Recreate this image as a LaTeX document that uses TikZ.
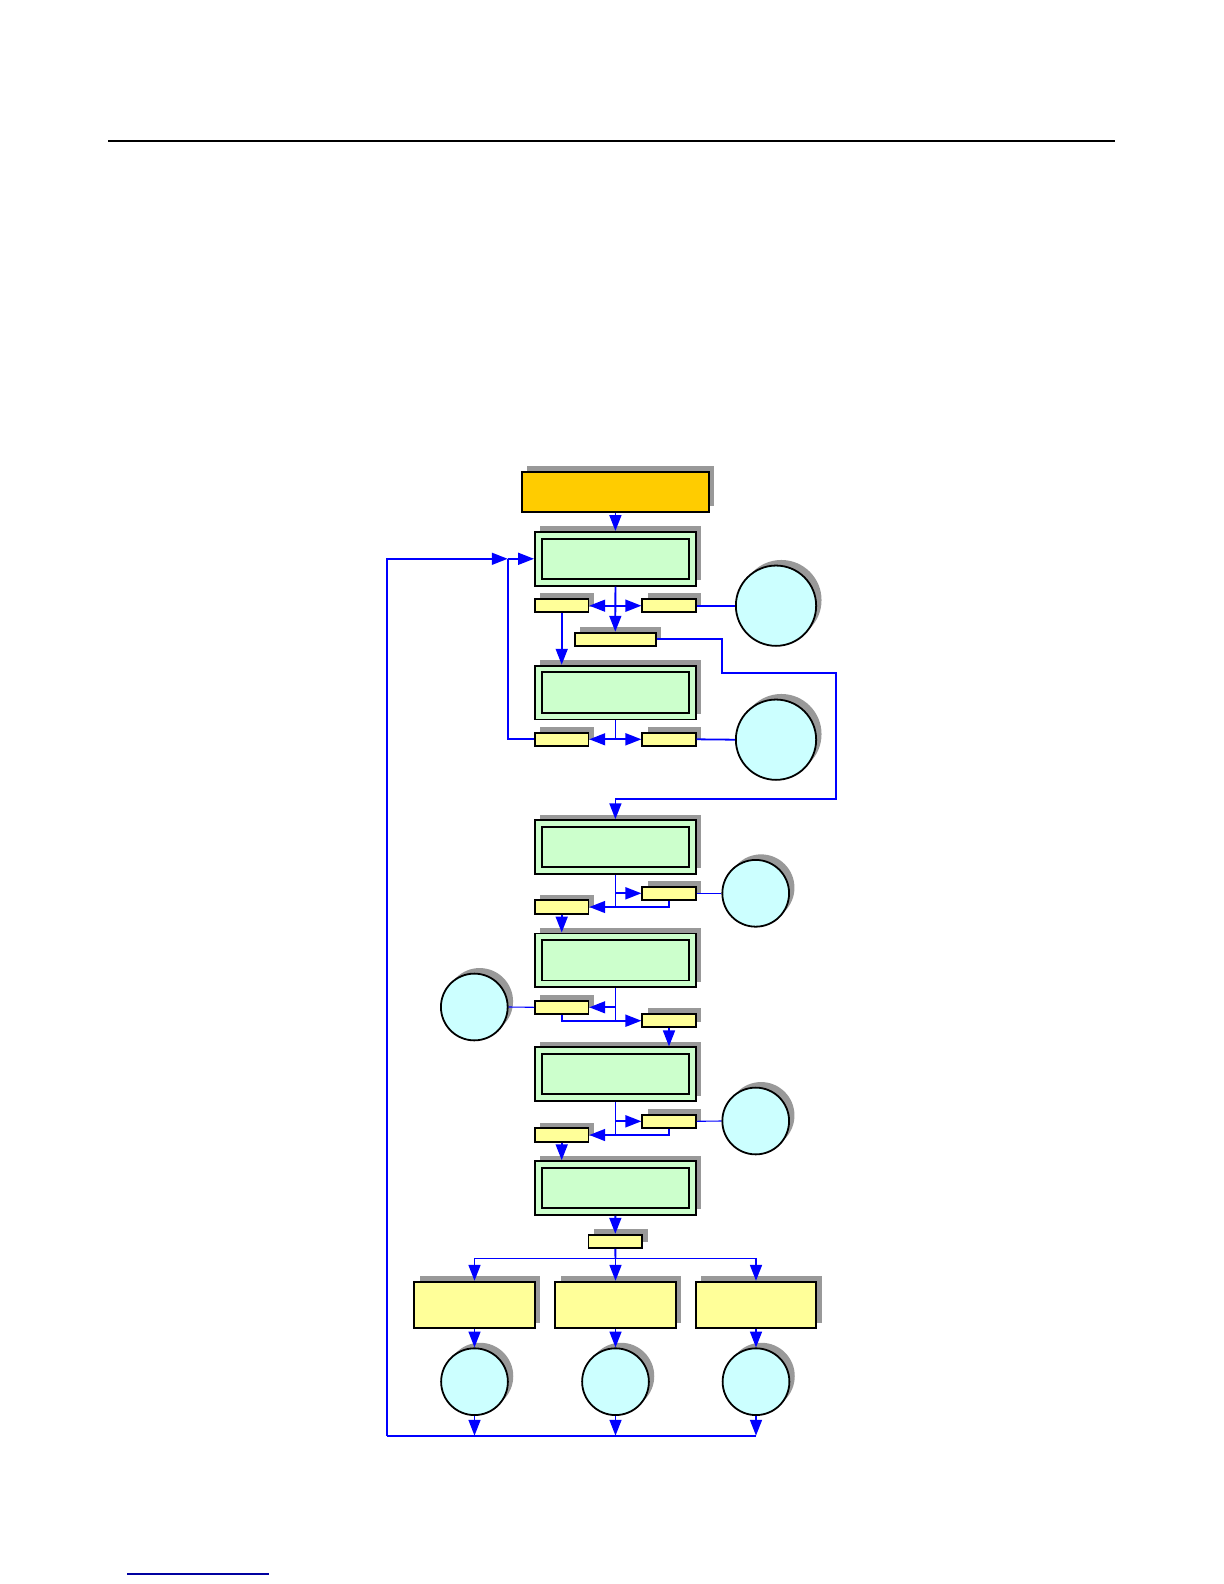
\documentclass[tikz,border=0pt]{standalone}
\usepackage{tikz}
\usetikzlibrary{arrows.meta,positioning,shadows}

\definecolor{headorange}{HTML}{FFCC00}
\definecolor{stagegreen}{HTML}{CCFFCC}
\definecolor{notefill}{HTML}{FFFF99}
\definecolor{poolcyan}{HTML}{CCFFFF}
\definecolor{footblue}{RGB}{0,0,160}

\begin{document}
\begin{tikzpicture}[
        x=0.50187pt, y=-0.50187pt,
        shade/.style={general shadow={fill=black!40, shadow xshift=2.7pt, shadow yshift=2.8pt}},
        head/.style={draw, line width=0.9pt, fill=headorange, minimum width=94pt, minimum height=20pt, inner sep=0pt, shade},
        stage/.style={draw, line width=0.9pt, fill=stagegreen, minimum width=80.8pt, minimum height=27pt, inner sep=0pt, shade,
            path picture={\draw[line width=0.9pt] ([shift={(3.4pt,-3.4pt)}]path picture bounding box.north west) rectangle ([shift={(-3.4pt,3.4pt)}]path picture bounding box.south east);}},
        tag/.style={draw, line width=0.9pt, fill=notefill, minimum width=26.8pt, minimum height=6.7pt, inner sep=0pt, shade},
        branch/.style={draw, line width=0.9pt, fill=notefill, minimum width=60.6pt, minimum height=23.4pt, inner sep=0pt, shade},
        pool/.style={circle, draw, line width=0.9pt, fill=poolcyan, minimum size=33.5pt, inner sep=0pt, shade},
        arr/.style={blue, line width=0.9pt, -{Triangle[length=8pt,width=6pt]}},
        link/.style={blue, line width=0.9pt},
        thin/.style={blue, line width=0.55pt},
    ]
    \useasboundingbox (0,0) rectangle (1224,1584);
    \draw[line width=1pt] (108,141.4) -- (1115,141.4);
    \draw[footblue, line width=0.6pt] (127,1574) -- (269,1574);

    % main column
    \node[head] (head) at (615.4,491.7) {};
    \node[stage] (st1) at (615.4,558.8) {};
    \node[stage] (st2) at (615.4,692.5) {};
    \node[stage] (st3) at (615.4,847) {};
    \node[stage] (st4) at (615.4,960.3) {};
    \node[stage] (st5) at (615.4,1074.2) {};
    \node[stage] (st6) at (615.4,1188) {};

    % small tags
    \node[tag] (l1) at (561.7,605.7) {};
    \node[tag] (r1) at (669,605.7) {};
    \node[tag, minimum width=40.5pt] (mid) at (615.3,639.3) {};
    \node[tag] (l2) at (561.7,739.3) {};
    \node[tag] (r2) at (669,739.3) {};
    \node[tag] (r3) at (669,893.3) {};
    \node[tag] (l3) at (561.7,907) {};
    \node[tag] (l4) at (561.7,1007.3) {};
    \node[tag] (r4) at (669,1020.7) {};
    \node[tag] (r5) at (669,1121.3) {};
    \node[tag] (l5) at (561.7,1135) {};
    \node[tag, minimum width=27pt] (out) at (615.3,1241.3) {};

    % circles
    \node[pool, minimum size=40.3pt] (c1) at (776,605.7) {};
    \node[pool, minimum size=40.3pt] (c2) at (776,739.7) {};
    \node[pool] (c3) at (755.7,893.3) {};
    \node[pool] (c4) at (474.3,1007) {};
    \node[pool] (c5) at (755.7,1121) {};

    % outputs
    \node[branch] (b1) at (474.5,1305) {};
    \node[branch] (b2) at (615.5,1305) {};
    \node[branch] (b3) at (756,1305) {};
    \node[pool] (p1) at (474.5,1381.7) {};
    \node[pool] (p2) at (615.5,1381.7) {};
    \node[pool] (p3) at (756,1381.7) {};

    \coordinate (join) at (507.7,558.8);
    \coordinate (loop) at (387.3,1435.7);
    \coordinate (fan) at (615.4,1258.3);

    \draw[arr] (head) -- (st1);
    \draw[arr] (loop) |- (join);
    \draw[arr] (join) -- (st1.west);
    \draw[link] (l2.west) -| (join);

    \draw[arr] (st1.south) -- (mid.north);
    \draw[arr] (st1.south |- l1) -- (l1.east);
    \draw[arr] (st1.south |- r1) -- (r1.west);
    \draw[link] (r1.east) -- (c1.west);
    \draw[arr] (l1.south) -- (l1.south |- st2.north);
    \draw[arr] (mid.east) -| (722.3,672.7) -| (836,799.3) -| (st3.north);

    \draw[link] (st2.south) -- (st2.south |- l2);
    \draw[arr] (st2.south |- l2) -- (l2.east);
    \draw[arr] (st2.south |- r2) -- (r2.west);
    \draw[link] (r2.east) -- (c2.west);

    \draw[arr] (st3.south) -- (st3.south |- l3) -- (l3.east);
    \draw[arr] (st3.south |- r3) -- (r3.west);
    \draw[link] (r3.south) |- (st3.south |- l3);
    \draw[thin] (r3.east) -- (c3.west);
    \draw[arr] (l3.south) -- (l3.south |- st4.north);

    \draw[arr] (st4.south) -- (st4.south |- r4) -- (r4.west);
    \draw[arr] (st4.south |- l4) -- (l4.east);
    \draw[link] (l4.south) |- (st4.south |- r4);
    \draw[thin] (c4.east) -- (l4.west);
    \draw[arr] (r4.south) -- (r4.south |- st5.north);

    \draw[arr] (st5.south) -- (st5.south |- l5) -- (l5.east);
    \draw[arr] (st5.south |- r5) -- (r5.west);
    \draw[link] (r5.south) |- (st5.south |- l5);
    \draw[thin] (r5.east) -- (c5.west);
    \draw[arr] (l5.south) -- (l5.south |- st6.north);

    \draw[arr] (st6) -- (out);
    \draw[link] (out) -- (fan);
    \draw[thin] (b1.north |- fan) -- (b3.north |- fan);
    \foreach \b in {b1,b2,b3}
        \draw[arr] (\b.north |- fan) -- (\b.north);
    \foreach \b/\p in {b1/p1,b2/p2,b3/p3} {
        \draw[arr] (\b) -- (\p);
        \draw[arr] (\p.south) -- (\p.south |- loop);
    }
    \draw[link] (loop) -- (p3.south |- loop);
\end{tikzpicture}
\end{document}
